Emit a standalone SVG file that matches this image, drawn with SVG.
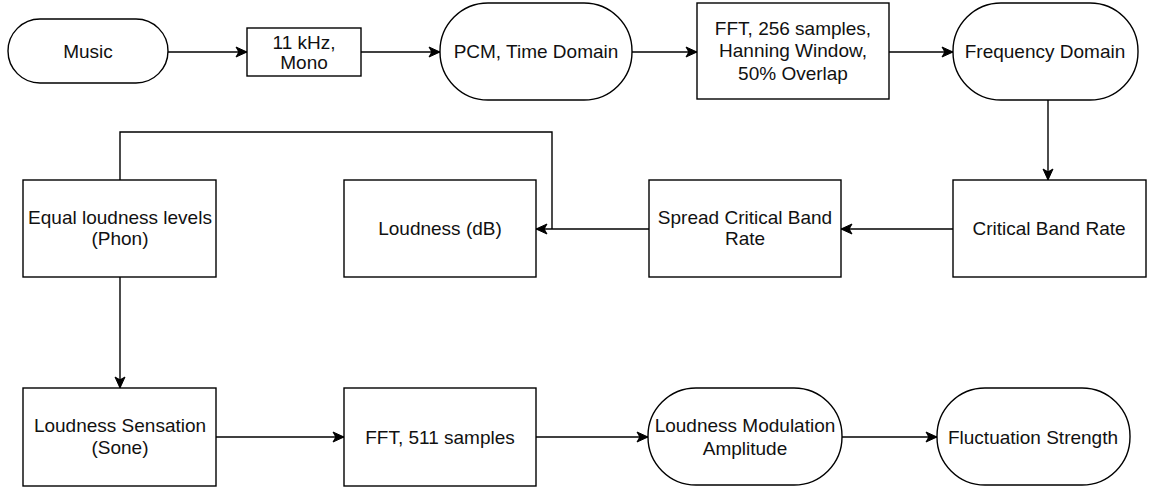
<svg xmlns="http://www.w3.org/2000/svg" width="1154" height="492" viewBox="0 0 1154 492">
<style>
.n{fill:#fff;stroke:#000;stroke-width:1.4}
.t{font-family:"Liberation Sans",Helvetica,Arial,sans-serif;font-size:19px;fill:#111;text-anchor:middle}
.c{fill:none;stroke:#000;stroke-width:1.4}
</style>
<defs>
<marker id="ah" markerUnits="userSpaceOnUse" markerWidth="13" markerHeight="13" viewBox="0 0 13 13" refX="12" refY="6.5" orient="auto">
<path d="M1,1.5 L12,6.5 L1,11.5 L3.8,6.5 Z" fill="#000" stroke="#000" stroke-width="1"/>
</marker>
</defs>
<rect width="1154" height="492" fill="#fff"/>
<g id="connectors">
<path class="c" d="M168,52 H247" marker-end="url(#ah)"/>
<path class="c" d="M361,52 H440" marker-end="url(#ah)"/>
<path class="c" d="M632,52 H697" marker-end="url(#ah)"/>
<path class="c" d="M889,52 H953" marker-end="url(#ah)"/>
<path class="c" d="M1048,100 V180" marker-end="url(#ah)"/>
<path class="c" d="M953,229 H841" marker-end="url(#ah)"/>
<path class="c" d="M649,229 H536" marker-end="url(#ah)"/>
<path class="c" d="M120,180 V132 H552 V229"/>
<path class="c" d="M120,277 V388" marker-end="url(#ah)"/>
<path class="c" d="M216,437 H344" marker-end="url(#ah)"/>
<path class="c" d="M536,437 H648" marker-end="url(#ah)"/>
<path class="c" d="M842,437 H937" marker-end="url(#ah)"/>
</g>
<g id="music"><rect class="n" x="8" y="19" width="160" height="64" rx="32"/><text class="t" x="88" y="58">Music</text></g>
<g id="resample"><rect class="n" x="247" y="28" width="114" height="48"/><text class="t" x="304" y="49">11 kHz,</text><text class="t" x="304" y="69">Mono</text></g>
<g id="pcm"><rect class="n" x="440" y="3" width="192" height="97" rx="48"/><text class="t" x="536" y="58">PCM, Time Domain</text></g>
<g id="fft256"><rect class="n" x="697" y="3" width="192" height="96"/><text class="t" x="793" y="35">FFT, 256 samples,</text><text class="t" x="793" y="57">Hanning Window,</text><text class="t" x="793" y="80">50% Overlap</text></g>
<g id="freq"><rect class="n" x="953" y="3" width="185" height="97" rx="48"/><text class="t" x="1045" y="58">Frequency Domain</text></g>
<g id="cbr"><rect class="n" x="953" y="180" width="193" height="97"/><text class="t" x="1049" y="235">Critical Band Rate</text></g>
<g id="spread"><rect class="n" x="649" y="180" width="192" height="97"/><text class="t" x="745" y="224">Spread Critical Band</text><text class="t" x="745" y="245">Rate</text></g>
<g id="loudness"><rect class="n" x="344" y="180" width="192" height="97"/><text class="t" x="440" y="235">Loudness (dB)</text></g>
<g id="equal"><rect class="n" x="23" y="180" width="193" height="97"/><text class="t" x="120" y="224">Equal loudness levels</text><text class="t" x="120" y="245">(Phon)</text></g>
<g id="sensation"><rect class="n" x="23" y="388" width="193" height="98"/><text class="t" x="120" y="432">Loudness Sensation</text><text class="t" x="120" y="454">(Sone)</text></g>
<g id="fft511"><rect class="n" x="344" y="388" width="192" height="98"/><text class="t" x="440" y="444">FFT, 511 samples</text></g>
<g id="lma"><rect class="n" x="648" y="388" width="194" height="97" rx="48"/><text class="t" x="745" y="432">Loudness Modulation</text><text class="t" x="745" y="455">Amplitude</text></g>
<g id="fluct"><rect class="n" x="937" y="388" width="193" height="97" rx="48"/><text class="t" x="1033" y="444">Fluctuation Strength</text></g>
</svg>
